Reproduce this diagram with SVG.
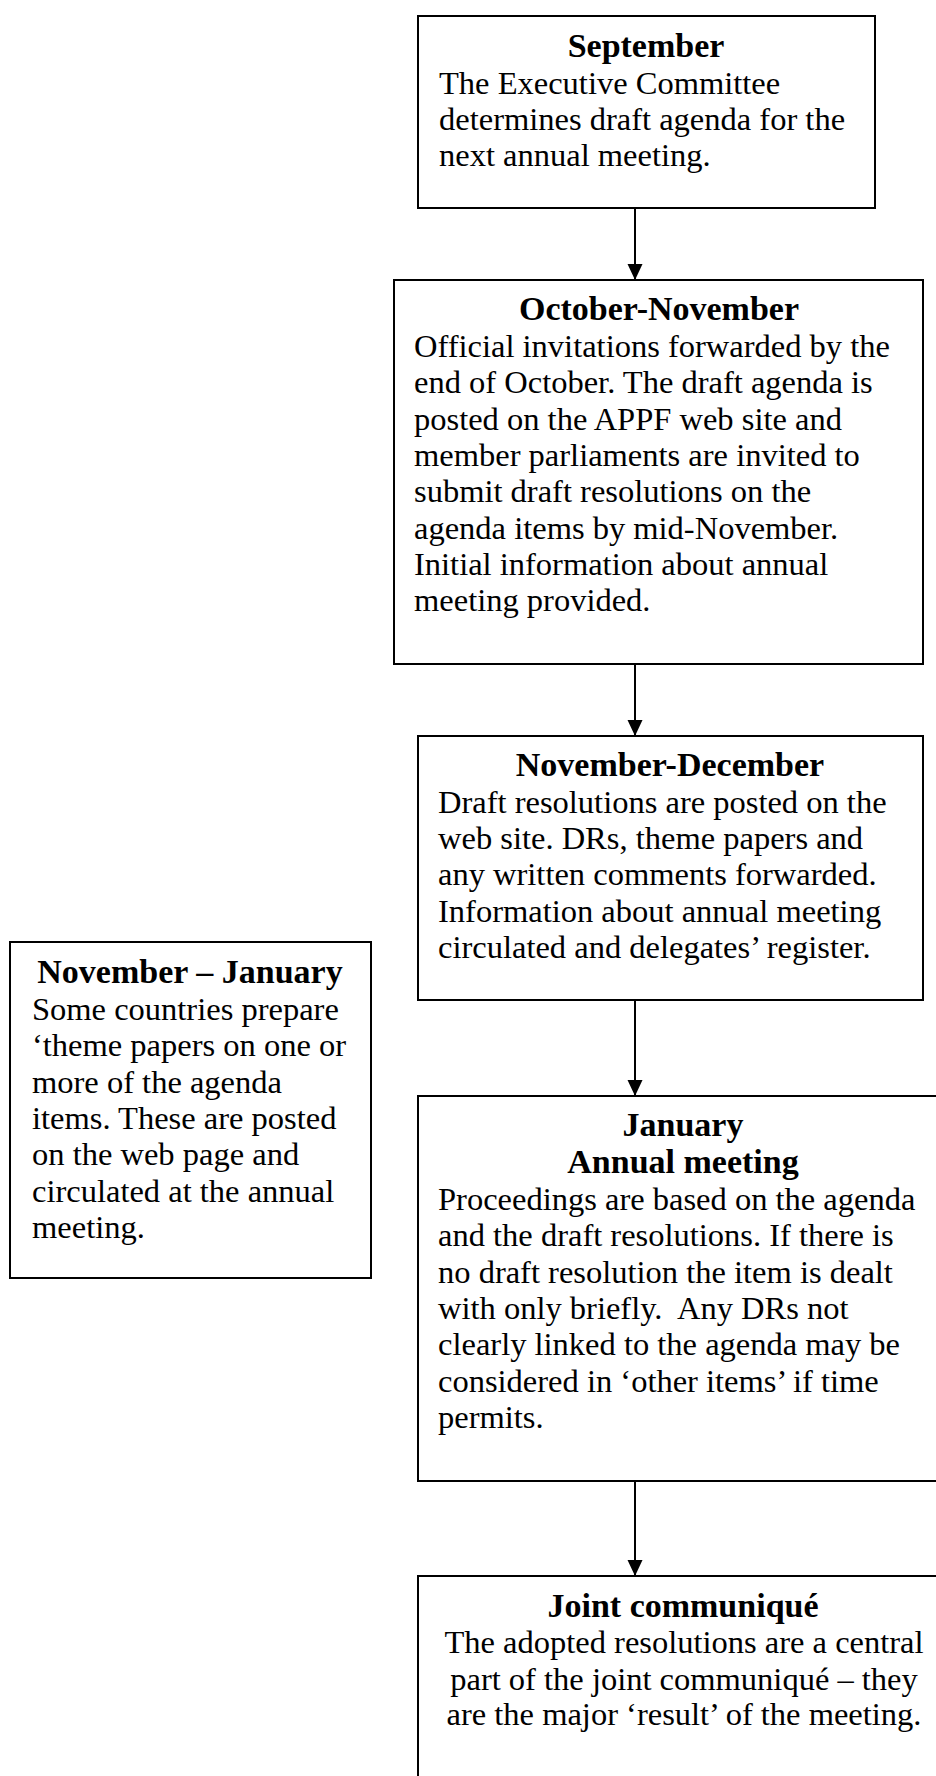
<svg xmlns="http://www.w3.org/2000/svg" width="936" height="1776" viewBox="0 0 936 1776">
<style>
.box{fill:#fff;stroke:#000;stroke-width:2}
.t{font-family:"Liberation Serif","Times New Roman",serif;font-size:32.5px;fill:#000}
.h{font-weight:bold;text-anchor:middle;font-size:34px}
.c{text-anchor:middle}
.conn{stroke:#000;stroke-width:2;fill:none}
</style>
<defs>
<marker id="ah" markerUnits="userSpaceOnUse" viewBox="0 0 16 16" refX="16" refY="8" markerWidth="16" markerHeight="16" orient="auto">
<path d="M0,0.5 L16,8 L0,15.5 z" fill="#000"/>
</marker>
</defs>
<rect width="936" height="1776" fill="#fff"/>

<g id="connectors">
<line class="conn" x1="635" y1="208" x2="635" y2="280" marker-end="url(#ah)"/>
<line class="conn" x1="635" y1="664" x2="635" y2="736" marker-end="url(#ah)"/>
<line class="conn" x1="635" y1="1000" x2="635" y2="1096" marker-end="url(#ah)"/>
<line class="conn" x1="635" y1="1481" x2="635" y2="1576" marker-end="url(#ah)"/>
</g>

<g id="september">
<rect class="box" x="418" y="16" width="457" height="192"/>
<text class="t h" x="646" y="57">September</text>
<text class="t" x="439" y="94">The Executive Committee</text>
<text class="t" x="439" y="130">determines draft agenda for the</text>
<text class="t" x="439" y="166">next annual meeting.</text>
</g>

<g id="october-november">
<rect class="box" x="394" y="280" width="529" height="384"/>
<text class="t h" x="659" y="320">October-November</text>
<text class="t" x="414" y="357">Official invitations forwarded by the</text>
<text class="t" x="414" y="393">end of October. The draft agenda is</text>
<text class="t" x="414" y="430">posted on the APPF web site and</text>
<text class="t" x="414" y="466">member parliaments are invited to</text>
<text class="t" x="414" y="502">submit draft resolutions on the</text>
<text class="t" x="414" y="539">agenda items by mid-November.</text>
<text class="t" x="414" y="575">Initial information about annual</text>
<text class="t" x="414" y="611">meeting provided.</text>
</g>

<g id="november-december">
<rect class="box" x="418" y="736" width="505" height="264"/>
<text class="t h" x="670" y="776">November-December</text>
<text class="t" x="438" y="813">Draft resolutions are posted on the</text>
<text class="t" x="438" y="849">web site. DRs, theme papers and</text>
<text class="t" x="438" y="885">any written comments forwarded.</text>
<text class="t" x="438" y="922">Information about annual meeting</text>
<text class="t" x="438" y="958">circulated and delegates’ register.</text>
</g>

<g id="november-january">
<rect class="box" x="10" y="942" width="361" height="336"/>
<text class="t h" x="190" y="983">November – January</text>
<text class="t" x="32" y="1020">Some countries prepare</text>
<text class="t" x="32" y="1056">‘theme papers on one or</text>
<text class="t" x="32" y="1093">more of the agenda</text>
<text class="t" x="32" y="1129">items. These are posted</text>
<text class="t" x="32" y="1165">on the web page and</text>
<text class="t" x="32" y="1202">circulated at the annual</text>
<text class="t" x="32" y="1238">meeting.</text>
</g>

<g id="january">
<rect class="box" x="418" y="1096" width="530" height="385"/>
<text class="t h" x="683" y="1136">January</text>
<text class="t h" x="683" y="1173">Annual meeting</text>
<text class="t" x="438" y="1210">Proceedings are based on the agenda</text>
<text class="t" x="438" y="1246">and the draft resolutions. If there is</text>
<text class="t" x="438" y="1283">no draft resolution the item is dealt</text>
<text class="t" x="438" y="1319">with only briefly.&#160; Any DRs not</text>
<text class="t" x="438" y="1355">clearly linked to the agenda may be</text>
<text class="t" x="438" y="1392">considered in ‘other items’ if time</text>
<text class="t" x="438" y="1428">permits.</text>
</g>

<g id="joint-communique">
<rect class="box" x="418" y="1576" width="530" height="240"/>
<text class="t h" x="683" y="1617">Joint communiqué</text>
<text class="t c" x="684" y="1653">The adopted resolutions are a central</text>
<text class="t c" x="684" y="1690">part of the joint communiqué – they</text>
<text class="t c" x="684" y="1725">are the major ‘result’ of the meeting.</text>
</g>
</svg>
